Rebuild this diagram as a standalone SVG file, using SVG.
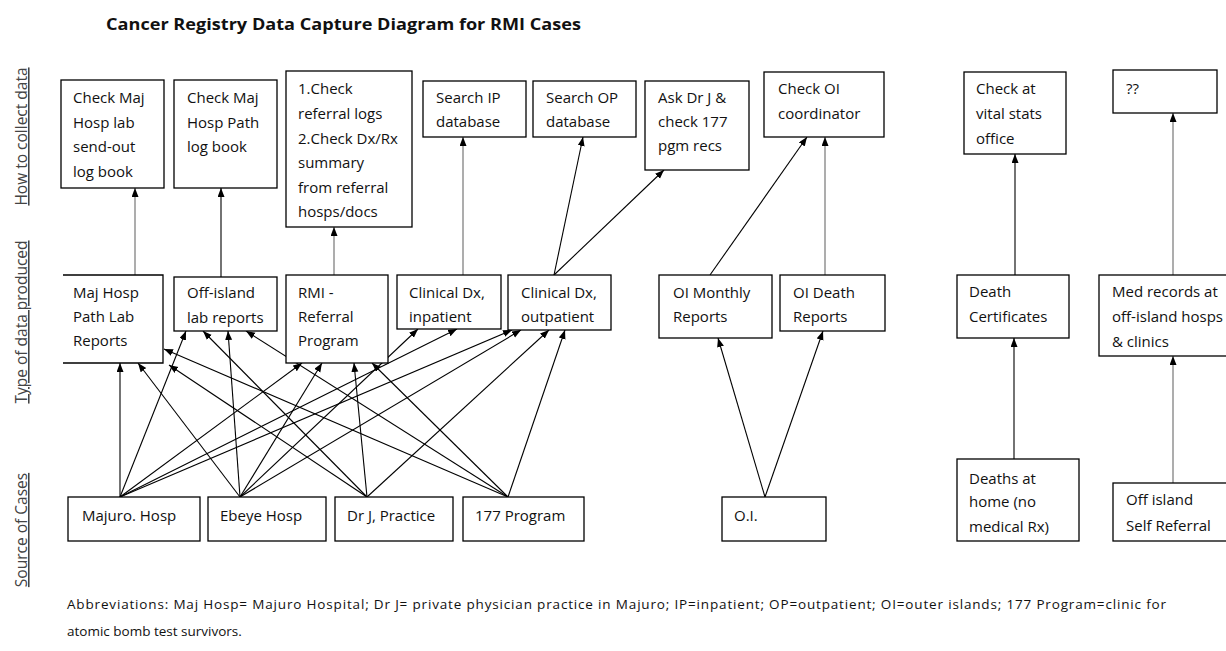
<svg xmlns="http://www.w3.org/2000/svg" width="1226" height="651" viewBox="0 0 1226 651">
<style>
.bx{fill:#fff;stroke:#000;stroke-width:1.3}
.t{font-family:"Open Sans","Liberation Sans",sans-serif;font-size:15px;fill:#111}
.lbl{font-family:"Open Sans","Liberation Sans",sans-serif;font-size:15.5px;fill:#444;text-decoration:underline;text-anchor:middle}
.k{stroke:#000;stroke-width:1.1;fill:none;marker-end:url(#ah)}
.g{stroke:#999;stroke-width:1.6;fill:none;marker-end:url(#ah)}
.ab{font-family:"Open Sans","Liberation Sans",sans-serif;font-size:13.5px;fill:#111}
</style>
<defs>
<marker id="ah" markerUnits="userSpaceOnUse" markerWidth="10" markerHeight="8" refX="9" refY="3.5" orient="auto">
<path d="M0,0 L9,3.5 L0,7 z" fill="#000"/>
</marker>
</defs>
<rect width="1226" height="651" fill="#fff"/>
<text x="106" y="30" font-family="Open Sans, Liberation Sans, sans-serif" font-size="16.5" font-weight="bold" fill="#111" textLength="475" lengthAdjust="spacingAndGlyphs">Cancer Registry Data Capture Diagram for RMI Cases</text>

<g id="row-labels">
<text class="lbl" transform="translate(27,136.5) rotate(-90)">How to collect data</text>
<text class="lbl" transform="translate(27,322) rotate(-90)">Type of data produced</text>
<text class="lbl" transform="translate(27,530) rotate(-90)">Source of Cases</text>
</g>

<g id="connectors">
<line class="g" x1="135" y1="275" x2="135" y2="188"/>
<line class="k" x1="221" y1="277" x2="221" y2="188"/>
<line class="g" x1="334" y1="275" x2="334" y2="227"/>
<line class="g" x1="463" y1="275" x2="463" y2="137"/>
<line class="k" x1="554" y1="275" x2="583" y2="137"/>
<line class="k" x1="554" y1="275" x2="664" y2="170"/>
<line class="k" x1="710" y1="275" x2="807" y2="137"/>
<line class="g" x1="825" y1="275" x2="825" y2="137"/>
<line class="k" x1="1015" y1="275" x2="1015" y2="154"/>
<line class="g" x1="1173" y1="275" x2="1173" y2="113"/>

<line class="k" x1="120" y1="497" x2="120" y2="363"/>
<line class="k" x1="120" y1="497" x2="186" y2="331"/>
<line class="k" x1="120" y1="497" x2="302" y2="363"/>
<line class="k" x1="120" y1="497" x2="457" y2="329"/>
<line class="k" x1="120" y1="497" x2="512" y2="330"/>

<line class="k" x1="240" y1="497" x2="138" y2="363"/>
<line class="k" x1="240" y1="497" x2="228" y2="331"/>
<line class="k" x1="240" y1="497" x2="322" y2="363"/>
<line class="k" x1="240" y1="497" x2="418" y2="329"/>
<line class="k" x1="240" y1="497" x2="521" y2="330"/>

<line class="k" x1="367" y1="497" x2="169" y2="365"/>
<line class="k" x1="367" y1="497" x2="203" y2="331"/>
<line class="k" x1="367" y1="497" x2="354" y2="363"/>
<line class="k" x1="367" y1="497" x2="549" y2="330"/>

<line class="k" x1="508" y1="497" x2="164" y2="349"/>
<line class="k" x1="508" y1="497" x2="246" y2="331"/>
<line class="k" x1="508" y1="497" x2="372" y2="363"/>
<line class="k" x1="508" y1="497" x2="565" y2="330"/>

<line class="k" x1="765" y1="497" x2="718" y2="338"/>
<line class="k" x1="765" y1="497" x2="823" y2="331"/>
<line class="k" x1="1014" y1="459" x2="1014" y2="338"/>
<line class="g" x1="1173" y1="483" x2="1173" y2="356"/>
</g>

<g id="collect-maj-lab"><rect class="bx" x="61" y="80" width="103" height="108"/>
<text class="t" x="73" y="103">Check Maj</text><text class="t" x="73" y="128">Hosp lab</text><text class="t" x="73" y="152">send-out</text><text class="t" x="73" y="177">log book</text></g>
<g id="collect-maj-path"><rect class="bx" x="174" y="80" width="103" height="108"/>
<text class="t" x="187" y="103">Check Maj</text><text class="t" x="187" y="128">Hosp Path</text><text class="t" x="187" y="152">log book</text></g>
<g id="collect-referral"><rect class="bx" x="286" y="71" width="126" height="156"/>
<text class="t" x="298" y="94">1.Check</text><text class="t" x="298" y="119">referral logs</text><text class="t" x="298" y="144">2.Check Dx/Rx</text><text class="t" x="298" y="168">summary</text><text class="t" x="298" y="193">from referral</text><text class="t" x="298" y="217">hosps/docs</text></g>
<g id="collect-ip"><rect class="bx" x="423" y="81" width="103" height="56"/>
<text class="t" x="436" y="103">Search IP</text><text class="t" x="436" y="127">database</text></g>
<g id="collect-op"><rect class="bx" x="533" y="81" width="103" height="56"/>
<text class="t" x="546" y="103">Search OP</text><text class="t" x="546" y="127">database</text></g>
<g id="collect-drj"><rect class="bx" x="645" y="81" width="104" height="89"/>
<text class="t" x="658" y="103">Ask Dr J &amp;</text><text class="t" x="658" y="127">check 177</text><text class="t" x="658" y="151">pgm recs</text></g>
<g id="collect-oi"><rect class="bx" x="764" y="72" width="120" height="65"/>
<text class="t" x="778" y="94">Check OI</text><text class="t" x="778" y="119">coordinator</text></g>
<g id="collect-vital"><rect class="bx" x="964" y="72" width="102" height="82"/>
<text class="t" x="976" y="94">Check at</text><text class="t" x="976" y="119">vital stats</text><text class="t" x="976" y="144">office</text></g>
<g id="collect-unknown"><rect class="bx" x="1113" y="70" width="104" height="43"/>
<text class="t" x="1126" y="94">??</text></g>

<g id="type-path-lab"><path d="M63,275 H163 V363 H63" fill="#fff" stroke="#000" stroke-width="1.3"/>
<text class="t" x="73" y="298">Maj Hosp</text><text class="t" x="73" y="322">Path Lab</text><text class="t" x="73" y="346">Reports</text></g>
<g id="type-offisland-lab"><rect class="bx" x="174" y="277" width="103" height="54"/>
<text class="t" x="187" y="298">Off-island</text><text class="t" x="187" y="323">lab reports</text></g>
<g id="type-rmi-referral"><rect class="bx" x="286" y="275" width="102" height="88"/>
<text class="t" x="298" y="298">RMI -</text><text class="t" x="298" y="322">Referral</text><text class="t" x="298" y="346">Program</text></g>
<g id="type-clin-ip"><rect class="bx" x="397" y="275" width="104" height="54"/>
<text class="t" x="409" y="298">Clinical Dx,</text><text class="t" x="409" y="322">inpatient</text></g>
<g id="type-clin-op"><rect class="bx" x="508" y="275" width="103" height="55"/>
<text class="t" x="521" y="298">Clinical Dx,</text><text class="t" x="521" y="322">outpatient</text></g>
<g id="type-oi-monthly"><rect class="bx" x="659" y="275" width="113" height="63"/>
<text class="t" x="673" y="298">OI Monthly</text><text class="t" x="673" y="322">Reports</text></g>
<g id="type-oi-death"><rect class="bx" x="780" y="275" width="105" height="56"/>
<text class="t" x="793" y="298">OI Death</text><text class="t" x="793" y="322">Reports</text></g>
<g id="type-death-cert"><rect class="bx" x="957" y="275" width="112" height="63"/>
<text class="t" x="969" y="297">Death</text><text class="t" x="969" y="322">Certificates</text></g>
<g id="type-med-records"><rect class="bx" x="1099" y="275" width="140" height="81"/>
<text class="t" x="1112" y="297">Med records at</text><text class="t" x="1112" y="322">off-island hosps</text><text class="t" x="1112" y="347">&amp; clinics</text></g>

<g id="src-majuro"><rect class="bx" x="68" y="497" width="132" height="44"/>
<text class="t" x="82" y="521">Majuro. Hosp</text></g>
<g id="src-ebeye"><rect class="bx" x="208" y="497" width="118" height="44"/>
<text class="t" x="220" y="521">Ebeye Hosp</text></g>
<g id="src-drj"><rect class="bx" x="335" y="497" width="118" height="44"/>
<text class="t" x="347" y="521">Dr J, Practice</text></g>
<g id="src-177"><rect class="bx" x="463" y="497" width="121" height="44"/>
<text class="t" x="475" y="521">177 Program</text></g>
<g id="src-oi"><rect class="bx" x="722" y="497" width="104" height="44"/>
<text class="t" x="734" y="521">O.I.</text></g>
<g id="src-deaths-home"><rect class="bx" x="957" y="459" width="122" height="82"/>
<text class="t" x="969" y="484">Deaths at</text><text class="t" x="969" y="507">home (no</text><text class="t" x="969" y="532">medical Rx)</text></g>
<g id="src-self-referral"><rect class="bx" x="1113" y="483" width="126" height="58"/>
<text class="t" x="1126" y="505">Off island</text><text class="t" x="1126" y="531">Self Referral</text></g>

<text class="ab" x="67" y="609" textLength="1099">Abbreviations: Maj Hosp= Majuro Hospital; Dr J= private physician practice in Majuro; IP=inpatient; OP=outpatient; OI=outer islands; 177 Program=clinic for</text>
<text class="ab" x="67" y="636">atomic bomb test survivors.</text>
</svg>
